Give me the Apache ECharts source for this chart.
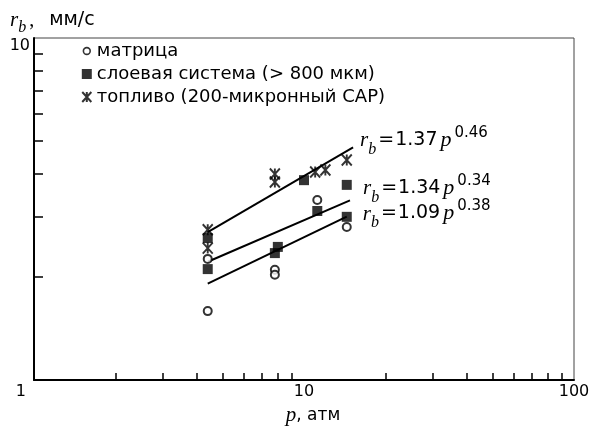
<!DOCTYPE html>
<html>
<head>
<meta charset="utf-8">
<script src="https://cdn.jsdelivr.net/npm/echarts@6/dist/echarts.min.js"></script>
<style>
  html, body { margin: 0; padding: 0; background: #fff; }
  #chart { width: 591px; height: 427px; }
</style>
</head>
<body>
<div id="chart"></div>
<script>
// Burning rate r_b (mm/s) versus pressure p (atm)
const matrixP  = [4.4, 4.4, 7.8, 7.8, 11.2, 14.4];
const matrixR  = [2.26, 1.59, 2.10, 2.03, 3.36, 2.80];
const layeredP = [4.4, 4.4, 7.8, 8.0, 10, 11.2, 14.4, 14.4];
const layeredR = [2.60, 2.11, 2.35, 2.45, 3.84, 3.12, 3.72, 3.00];
const fuelP    = [4.4, 4.4, 7.8, 7.8, 11, 12, 14.4];
const fuelR    = [2.75, 2.43, 4.00, 3.79, 4.06, 4.11, 4.40];

const seriesNames = ['матрица', 'слоевая система (> 800 мкм)', 'топливо (200-микронный САР)'];

// Power-law fits r_b = a * p^n (fuel, layered, matrix) and their pressure spans
const fitA    = [1.37, 1.34, 1.09];
const fitN    = [0.46, 0.34, 0.38];
const fitFrom = [4.4, 4.4, 4.4];
const fitTo   = [15.2, 14.8, 14.4];

// Axis ticks
const xTickLabels = [1, 10, 100];
const yTickLabels = [10];
const xMinorTicks = [2, 3, 4, 5, 6, 7, 8, 9, 20, 30, 40, 50, 60, 70, 80, 90];
const yMinorTicks = [2, 3, 4, 5, 6, 7, 8, 9];

const SANS = 'DejaVu Sans';
const SERIF = 'Liberation Serif';

const zip = (xs, ys) => xs.map((x, i) => [x, ys[i]]);

const starPath = 'path://M0 0L10 11M10 0L0 11M5 0L5 11';
// small ring inside a 10x10 box for the legend
const legendRing = 'path://M0 0M10 10M8.4 5A3.4 3.4 0 1 1 1.6 5A3.4 3.4 0 1 1 8.4 5Z';

// per-fit label placement relative to the end of each line
const fitLabelOffset = [[2, -1], [8, -6], [11, 3]];

const fitRich = {
  r:  { fontFamily: SERIF, fontStyle: 'italic', fontSize: 21, lineHeight: 21, color: '#000', verticalAlign: 'bottom', padding: [0, 0, 6, 0] },
  b:  { fontFamily: SERIF, fontStyle: 'italic', fontSize: 16, lineHeight: 16, color: '#000', verticalAlign: 'bottom', padding: [0, 2, 0, 0] },
  eq: { fontFamily: SANS, fontSize: 19, lineHeight: 19, color: '#000', verticalAlign: 'bottom', padding: [0, 1, 8, 0] },
  num: { fontFamily: SANS, fontSize: 19, lineHeight: 19, color: '#000', verticalAlign: 'bottom', padding: [0, 0, 8, 0] },
  p:  { fontFamily: SERIF, fontStyle: 'italic', fontSize: 22, lineHeight: 22, color: '#000', verticalAlign: 'bottom', padding: [0, 3, 6, 3] },
  e:  { fontFamily: SANS, fontSize: 15, lineHeight: 15, color: '#000', verticalAlign: 'bottom', padding: [0, 0, 17, 0] }
};

function fitSeries(i) {
  const a = fitA[i], n = fitN[i];
  const p0 = fitFrom[i], p1 = fitTo[i];
  return {
    type: 'line',
    silent: true,
    symbol: 'none',
    lineStyle: { color: '#000', width: 2 },
    z: 3,
    endLabel: {
      show: true,
      distance: 5,
      offset: fitLabelOffset[i],
      formatter: '{r|r}{b|b}{eq|=}{num|' + a.toFixed(2) + '}{p|p}{e|' + n.toFixed(2) + '}',
      rich: fitRich
    },
    data: [
      [p0, a * Math.pow(p0, n)],
      [p1, a * Math.pow(p1, n)]
    ]
  };
}

const chart = echarts.init(document.getElementById('chart'), null, { renderer: 'canvas' });

chart.setOption({
  animation: false,
  backgroundColor: '#fff',
  grid: {
    left: 34, right: 17, top: 38, bottom: 47,
    show: true, borderColor: '#444', borderWidth: 1,
    containLabel: false, outerBoundsMode: 'none'
  },
  legend: {
    orient: 'vertical',
    left: 81, top: 42, padding: 0,
    itemWidth: 10, itemHeight: 10, itemGap: 5,
    textStyle: { fontFamily: SANS, fontSize: 18, lineHeight: 18, color: '#000' },
    data: [
      { name: seriesNames[0], icon: legendRing, itemStyle: { color: '#fff', borderColor: '#000', borderWidth: 1.6 } },
      { name: seriesNames[1] },
      { name: seriesNames[2] }
    ]
  },
  xAxis: {
    type: 'log', logBase: 10, min: 1, max: 100,
    name: '{p|p}{u|, атм}',
    nameLocation: 'middle', nameGap: 22,
    nameTextStyle: {
      padding: [0, 0, 0, 18],
      rich: {
        p: { fontFamily: SERIF, fontStyle: 'italic', fontSize: 21, color: '#000' },
        u: { fontFamily: SANS, fontSize: 17, color: '#000' }
      }
    },
    axisLine: { lineStyle: { color: '#000', width: 2 } },
    axisTick: { show: true, inside: true, length: 7, customValues: xMinorTicks, lineStyle: { color: '#000', width: 1.5 } },
    axisLabel: {
      customValues: xTickLabels, margin: 4, alignMinLabel: 'right',
      fontFamily: SANS, fontSize: 16, color: '#000',
      formatter: v => (v === 1 ? '{one|1}' : String(v)),
      rich: { one: { fontFamily: SANS, fontSize: 16, color: '#000', padding: [0, 8, 0, 0] } }
    },
    splitLine: { show: false },
    minorTick: { show: false }
  },
  yAxis: {
    type: 'log', logBase: 10, min: 1, max: 10,
    axisLine: { lineStyle: { color: '#000', width: 2 } },
    axisTick: { show: true, inside: true, length: 9, customValues: yMinorTicks, lineStyle: { color: '#000', width: 1.5 } },
    axisLabel: {
      customValues: yTickLabels, margin: 4, verticalAlign: 'top',
      fontFamily: SANS, fontSize: 16, color: '#000'
    },
    splitLine: { show: false },
    minorTick: { show: false }
  },
  graphic: [{
    type: 'text',
    left: 10, top: 10,
    style: {
      text: '{r|r}{b|b}{c|,}{u|мм/с}',
      rich: {
        r: { fontFamily: SERIF, fontStyle: 'italic', fontSize: 21, lineHeight: 21, fill: '#000', verticalAlign: 'bottom', padding: [0, 0, 5, 0] },
        b: { fontFamily: SERIF, fontStyle: 'italic', fontSize: 16, lineHeight: 16, fill: '#000', verticalAlign: 'bottom' },
        c: { fontFamily: SERIF, fontSize: 20, lineHeight: 20, fill: '#000', verticalAlign: 'bottom', padding: [0, 0, 5, 3] },
        u: { fontFamily: SANS, fontSize: 19, lineHeight: 19, fill: '#000', verticalAlign: 'bottom', padding: [0, 0, 6, 15] }
      }
    }
  }],
  series: [
    {
      name: seriesNames[0], type: 'scatter',
      symbol: 'emptyCircle', symbolSize: 8,
      itemStyle: { color: '#000', borderColor: '#000', borderWidth: 1.6 },
      z: 4,
      data: zip(matrixP, matrixR)
    },
    {
      name: seriesNames[1], type: 'scatter',
      symbol: 'rect', symbolSize: 10,
      itemStyle: { color: '#000' },
      z: 4,
      data: zip(layeredP, layeredR)
    },
    {
      name: seriesNames[2], type: 'scatter',
      symbol: starPath, symbolSize: [10, 11],
      itemStyle: { color: 'transparent', borderColor: '#000', borderWidth: 2 },
      z: 4,
      data: zip(fuelP, fuelR)
    },
    fitSeries(0),
    fitSeries(1),
    fitSeries(2)
  ]
});
</script>
</body>
</html>
